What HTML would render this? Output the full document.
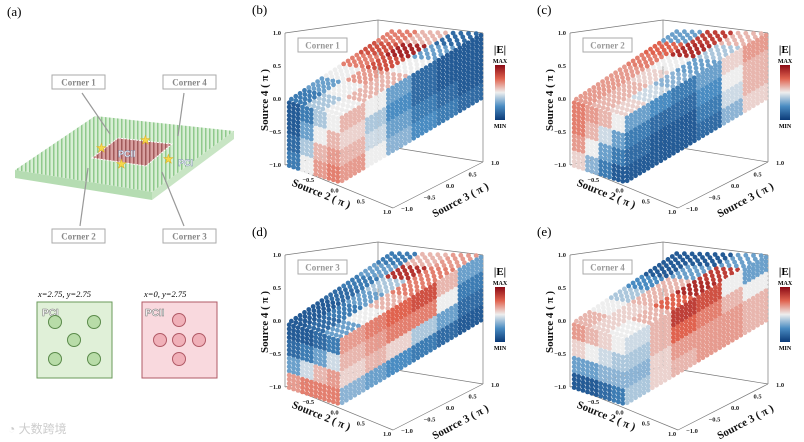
<!DOCTYPE html>
<html><head><meta charset="utf-8">
<style>
html,body{margin:0;padding:0;background:#fff;}
svg{display:block;font-family:"Liberation Serif",serif;}
</style></head>
<body>
<svg id="fig" width="804" height="442" viewBox="0 0 804 442" xmlns="http://www.w3.org/2000/svg">
<defs>
<linearGradient id="cbar" x1="0" y1="0" x2="0" y2="1">
<stop offset="0" stop-color="#8b0a15"/><stop offset="0.25" stop-color="#e0634f"/>
<stop offset="0.5" stop-color="#eeeeee"/><stop offset="0.75" stop-color="#4a8cc2"/>
<stop offset="1" stop-color="#0b3a78"/></linearGradient>
<pattern id="pillars" width="4" height="4" patternUnits="userSpaceOnUse">
<rect width="4" height="4" fill="#d8eed5"/><rect x="1" y="0" width="1.5" height="4" fill="#8fc98c"/></pattern>
<pattern id="pillarsR" width="4" height="4" patternUnits="userSpaceOnUse">
<rect width="4" height="4" fill="#d9a0a0"/><rect x="1" y="0" width="1.5" height="4" fill="#a05a5a"/></pattern>
</defs>

<!-- Panel (a) -->
<g>
<text x="7" y="16" font-size="13">(a)</text>
<polygon points="15,170 95,116 234,131 152,192" fill="url(#pillars)"/>
<polygon points="15,170 152,192 152,200 15,178" fill="#b5dcb2"/>
<polygon points="152,192 234,131 234,139 152,200" fill="#c8e5c4"/>
<polygon points="92,158 118,138 172,144 146,166" fill="url(#pillarsR)" stroke="#fff" stroke-dasharray="2,1"/>
<text x="118" y="157" font-family="Liberation Sans,sans-serif" font-size="9" font-weight="bold" fill="#fff" stroke="#7788aa" stroke-width="0.4">PCII</text>
<text x="178" y="166" font-family="Liberation Sans,sans-serif" font-size="9" font-weight="bold" fill="#fff" stroke="#7788aa" stroke-width="0.4">PCI</text>
<g fill="#f6d84a" stroke="#e0b020" stroke-width="0.5" font-size="12">
<text x="96" y="152">★</text><text x="140" y="144">★</text><text x="116" y="168">★</text><text x="163" y="163">★</text></g>
<g stroke="#999" stroke-width="1.2" fill="none">
<line x1="110" y1="134" x2="82" y2="93"/><line x1="178" y1="136" x2="184" y2="93"/>
<line x1="88" y1="168" x2="80" y2="226"/><line x1="162" y1="172" x2="184" y2="226"/></g>
<g font-size="9" font-weight="bold" fill="#888">
<rect x="52" y="75" width="53" height="14" fill="#fff" stroke="#aaa"/><text x="78.5" y="85.5" text-anchor="middle">Corner 1</text>
<rect x="163" y="75" width="53" height="14" fill="#fff" stroke="#aaa"/><text x="189.5" y="85.5" text-anchor="middle">Corner 4</text>
<rect x="52" y="229" width="53" height="14" fill="#fff" stroke="#aaa"/><text x="78.5" y="239.5" text-anchor="middle">Corner 2</text>
<rect x="163" y="229" width="53" height="14" fill="#fff" stroke="#aaa"/><text x="189.5" y="239.5" text-anchor="middle">Corner 3</text>
</g>
<text x="38" y="297" font-size="8.5" font-style="italic">x=2.75, y=2.75</text>
<text x="144" y="297" font-size="8.5" font-style="italic">x=0, y=2.75</text>
<g>
<rect x="37" y="302" width="75" height="76" fill="#e0f0d8" stroke="#6a9a5a"/>
<text x="42" y="316" font-family="Liberation Sans,sans-serif" font-size="10" font-weight="bold" fill="#fff" stroke="#777" stroke-width="0.5">PCI</text>
<g fill="#b8dca8" stroke="#5a8a4a"><circle cx="55" cy="322" r="6.5"/><circle cx="94" cy="322" r="6.5"/><circle cx="74" cy="340" r="6.5"/><circle cx="55" cy="359" r="6.5"/><circle cx="94" cy="359" r="6.5"/></g></g>
<g>
<rect x="142" y="302" width="75" height="76" fill="#f9d9de" stroke="#b05a66"/>
<text x="145" y="316" font-family="Liberation Sans,sans-serif" font-size="10" font-weight="bold" fill="#fff" stroke="#777" stroke-width="0.5">PCII</text>
<g fill="#f0b0b8" stroke="#b05a66"><circle cx="179" cy="320" r="6.5"/><circle cx="160" cy="340" r="6.5"/><circle cx="179" cy="340" r="6.5"/><circle cx="199" cy="340" r="6.5"/><circle cx="179" cy="359" r="6.5"/></g></g>
<text x="8" y="433" font-family="Liberation Sans,'Noto Sans CJK SC',sans-serif" font-size="12" fill="#ccc">◔ 大数跨境</text>
</g>
<g id="panels"></g>
</svg>
<script>
// |E| values (0=min,1=max) per face: front[rows][cols], top[u][v], right[rows][u]
const panelLabels = ['(b)','(c)','(d)','(e)'];
const cornerLabels = ['Corner 1','Corner 2','Corner 3','Corner 4'];
const zTicks = ['1.0','0.5','0.0','\u22120.5','\u22121.0'];
const s2Ticks = ['\u22120.5','0.0','0.5','1.0'];
const s3Ticks = ['\u22121.0','\u22120.5','0.0','0.5','1.0'];
const frontB = [[0.1,0.2,0.4,0.5],[0.1,0.3,0.5,0.6],[0.15,0.4,0.6,0.65],[0.2,0.5,0.65,0.7]];
const topB = [[0.2,0.4,0.5],[0.3,0.5,0.6],[0.5,0.65,0.6],[0.7,0.8,0.5],[0.8,0.92,0.3],[0.7,0.6,0.15]];
const rightB = [[0.6,0.5,0.3,0.15,0.1,0.1],[0.55,0.4,0.25,0.15,0.1,0.1],[0.6,0.45,0.3,0.2,0.15,0.1],[0.65,0.5,0.35,0.25,0.2,0.15]];
const frontC = [[0.7,0.65,0.6,0.5],[0.7,0.6,0.45,0.3],[0.65,0.5,0.3,0.2],[0.55,0.35,0.2,0.1]];
const topC = [[0.65,0.6,0.55],[0.65,0.6,0.45],[0.65,0.55,0.35],[0.7,0.5,0.3],[0.75,0.9,0.4],[0.3,0.85,0.6]];
const rightC = [[0.3,0.25,0.2,0.3,0.55,0.65],[0.2,0.15,0.15,0.25,0.5,0.6],[0.15,0.1,0.1,0.2,0.45,0.6],[0.1,0.1,0.1,0.15,0.35,0.55]];
const frontD = [[0.1,0.1,0.15,0.2],[0.15,0.2,0.3,0.45],[0.3,0.45,0.6,0.65],[0.65,0.7,0.7,0.7]];
const topD = [[0.1,0.15,0.3],[0.1,0.2,0.5],[0.15,0.3,0.6],[0.2,0.4,0.7],[0.3,0.88,0.7],[0.2,0.6,0.65]];
const rightD = [[0.65,0.7,0.75,0.8,0.6,0.3],[0.6,0.65,0.7,0.7,0.5,0.2],[0.55,0.6,0.55,0.4,0.3,0.15],[0.35,0.3,0.25,0.2,0.15,0.1]];
const frontE = [[0.65,0.6,0.55,0.5],[0.55,0.5,0.45,0.4],[0.3,0.3,0.35,0.35],[0.1,0.1,0.15,0.2]];
const topE = [[0.6,0.55,0.5],[0.5,0.55,0.6],[0.4,0.6,0.75],[0.25,0.6,0.9],[0.1,0.3,0.85],[0.1,0.1,0.3]];
const rightE = [[0.45,0.6,0.85,0.8,0.5,0.3],[0.4,0.6,0.75,0.7,0.6,0.5],[0.35,0.55,0.65,0.65,0.65,0.6],[0.4,0.55,0.6,0.65,0.65,0.6]];

const fronts=[frontB,frontC,frontD,frontE], tops=[topB,topC,topD,topE], rights=[rightB,rightC,rightD,rightE];
const offsets=[[250,0],[535,0],[250,222],[535,222]];
const NS='http://www.w3.org/2000/svg';
const stops=[[0,[11,58,120]],[0.25,[74,140,194]],[0.5,[238,238,238]],[0.75,[224,99,79]],[1,[139,10,21]]];
function cmap(v){v=Math.max(0,Math.min(1,v));for(let i=1;i<stops.length;i++){if(v<=stops[i][0]){const a=stops[i-1],b=stops[i],t=(v-a[0])/(b[0]-a[0]);return 'rgb('+a[1].map((c,k)=>Math.round(c+(b[1][k]-c)*t)).join(',')+')';}}}
function mk(tag,attrs,parent){const e=document.createElementNS(NS,tag);for(const k in attrs)e.setAttribute(k,attrs[k]);parent.appendChild(e);return e;}
function lerp(a,b,t){return [a[0]+(b[0]-a[0])*t,a[1]+(b[1]-a[1])*t];}
function bil(p00,p10,p01,p11,s,t){return lerp(lerp(p00,p10,s),lerp(p01,p11,s),t);}
// face: corners p00 (s=0,t=0), p10 (s=1), p01 (t=1), p11; grid[ti][si]
function face(g,grid,p00,p10,p01,p11,ns,nt,name){
  const fg=mk('g',{},g);
  
  
  const R=grid.length,C=grid[0].length;
  for(let j=0;j<nt;j++)for(let i=0;i<ns;i++){
    const s=(i+0.5)/ns,t=(j+0.5)/nt;
    const v=grid[Math.min(R-1,Math.floor(t*R))][Math.min(C-1,Math.floor(s*C))];
    const p=bil(p00,p10,p01,p11,s,t);
    const c=mk('circle',{cx:p[0].toFixed(1),cy:p[1].toFixed(1),r:2.4,fill:cmap(v)},fg);
    
    
  }
}
const root=document.getElementById('panels');
for(let k=0;k<4;k++){
  const [ox,oy]=offsets[k];
  const g=mk('g',{transform:'translate('+ox+','+oy+')'},root);
  
  
  const lab=mk('text',{x:2,y:14,'font-size':13},g);lab.textContent=panelLabels[k];
  
  
  const fr=mk('g',{stroke:'#777','stroke-width':0.7,fill:'none'},g);
  
  
  [[35,33,35,165],[35,33,128,20],[128,20,128,145],[128,20,233,33],[233,33,233,162],[128,145,35,165],[128,145,233,162],[38,165,143,208],[143,208,233,162]].forEach(l=>mk('line',{x1:l[0],y1:l[1],x2:l[2],y2:l[3]},fr));
  const P0=[37,100],P1=[90,117],P2=[233,32],P3=[140,30],H=67;
  const d=p=>[p[0],p[1]+H];
  face(g,fronts[k],P0,P1,d(P0),d(P1),12,16,'front-face');
  face(g,tops[k],P0,P1,P3,P2,12,24,'top-face');
  face(g,rights[k],P1,P2,d(P1),d(P2),34,16,'right-face');
  const tg=mk('g',{'font-size':6.5,'font-weight':'bold',fill:'#222'},g);
  
  
  zTicks.forEach((t,i)=>{const e=mk('text',{x:31,y:35+i*(165-33)/4,'text-anchor':'end'},tg);e.textContent=t;});
  s2Ticks.forEach((t,i)=>{const p=lerp([38,165],[143,208],(i+1)/4);const e=mk('text',{x:p[0]-6,y:p[1]+6,'text-anchor':'middle'},tg);e.textContent=t;});
  s3Ticks.forEach((t,i)=>{const p=lerp([143,208],[233,162],i/4);const e=mk('text',{x:p[0]+8,y:p[1]+3,'text-anchor':'start'},tg);e.textContent=t;});
  const ta=mk('g',{'font-size':11,'font-weight':'bold',fill:'#111'},g);
  
  
  let e=mk('text',{x:0,y:0,'text-anchor':'middle',transform:'translate(18,100) rotate(-90)'},ta);e.textContent='Source 4 ( \u03c0 )';
  e=mk('text',{x:0,y:0,'text-anchor':'middle',transform:'translate(70,197) rotate(22)'},ta);e.textContent='Source 2 ( \u03c0 )';
  e=mk('text',{x:0,y:0,'text-anchor':'middle',transform:'translate(212,203) rotate(-28)'},ta);e.textContent='Source 3 ( \u03c0 )';
  const cb=mk('g',{},g);
  
  
  mk('rect',{x:48,y:38,width:49,height:14,fill:'#fff',stroke:'#aaa'},cb);
  e=mk('text',{x:72.5,y:48.5,'text-anchor':'middle','font-size':9,'font-weight':'bold',fill:'#999'},cb);e.textContent=cornerLabels[k];
  const cg=mk('g',{},g);
  
  
  e=mk('text',{x:250,y:53,'text-anchor':'middle','font-size':11,'font-weight':'bold'},cg);e.textContent='|E|';
  e=mk('text',{x:250,y:63,'text-anchor':'middle','font-size':6,'font-weight':'bold'},cg);e.textContent='MAX';
  mk('rect',{x:245,y:65,width:10,height:55,fill:'url(#cbar)'},cg);
  e=mk('text',{x:250,y:128,'text-anchor':'middle','font-size':6,'font-weight':'bold'},cg);e.textContent='MIN';
}
</script>
</body></html>
